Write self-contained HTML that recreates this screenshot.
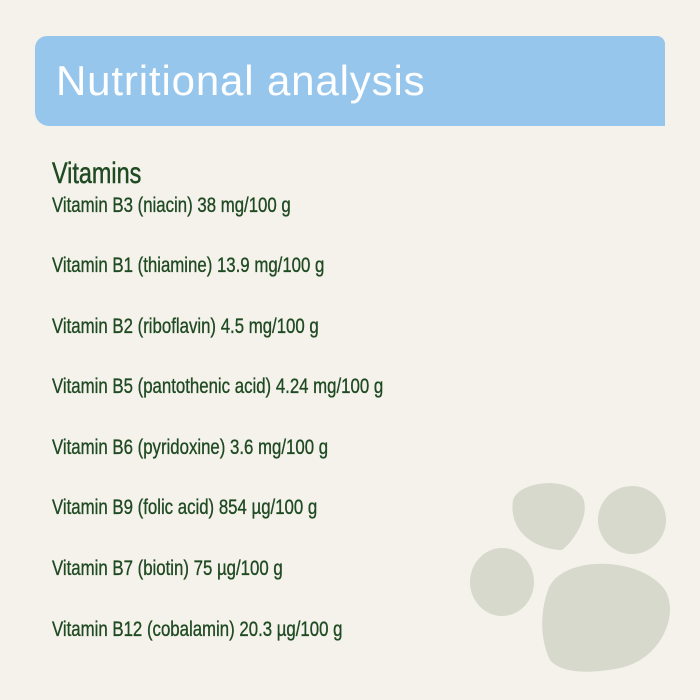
<!DOCTYPE html>
<html><head><style>
body{margin:0;width:700px;height:700px;background:#f5f2ec;position:relative;overflow:hidden;font-family:"Liberation Sans",sans-serif;}
.ban{position:absolute;left:35px;top:36px;width:630px;height:90px;background:#97c6ec;border-radius:12px 8px 0 14px;}
.t{position:absolute;left:56px;top:57px;color:#fff;font-size:42px;letter-spacing:0.85px;white-space:nowrap}
.h{position:absolute;left:52px;top:157px;color:#1f4a22;font-size:30px;white-space:nowrap;transform:scaleX(0.78);transform-origin:0 0;-webkit-text-stroke:0.5px #1f4a22}
.l{position:absolute;left:52px;color:#1f4a22;font-size:21px;white-space:nowrap;transform:scaleX(0.80);transform-origin:0 0;-webkit-text-stroke:0.35px #1f4a22}
</style></head><body>
<div class="ban"></div>
<div class="t">Nutritional analysis</div>
<div class="h">Vitamins</div>
<div class="l" style="top:194px">Vitamin B3 (niacin) 38 mg/100 g</div>
<div class="l" style="top:254px">Vitamin B1 (thiamine) 13.9 mg/100 g</div>
<div class="l" style="top:315px">Vitamin B2 (riboflavin) 4.5 mg/100 g</div>
<div class="l" style="top:375px">Vitamin B5 (pantothenic acid) 4.24 mg/100 g</div>
<div class="l" style="top:436px">Vitamin B6 (pyridoxine) 3.6 mg/100 g</div>
<div class="l" style="top:496px">Vitamin B9 (folic acid) 854 µg/100 g</div>
<div class="l" style="top:557px">Vitamin B7 (biotin) 75 µg/100 g</div>
<div class="l" style="top:618px">Vitamin B12 (cobalamin) 20.3 µg/100 g</div>
<svg style="position:absolute;left:0;top:0" width="700" height="700">
<g fill="#d7d9cd">
<path d="M513 500 C520 480 570 476 583 498 C590 515 575 540 562 550 C540 550 508 535 513 500Z"/>
<ellipse cx="632" cy="520" rx="34" ry="34" transform="rotate(-15 632 520)"/>
<ellipse cx="502" cy="582" rx="32" ry="34"/>
<path d="M548 590 C560 555 640 555 665 590 C680 615 660 660 620 668 C585 675 560 672 550 660 C540 640 540 612 548 590Z"/>
</g></svg>
</body></html>
